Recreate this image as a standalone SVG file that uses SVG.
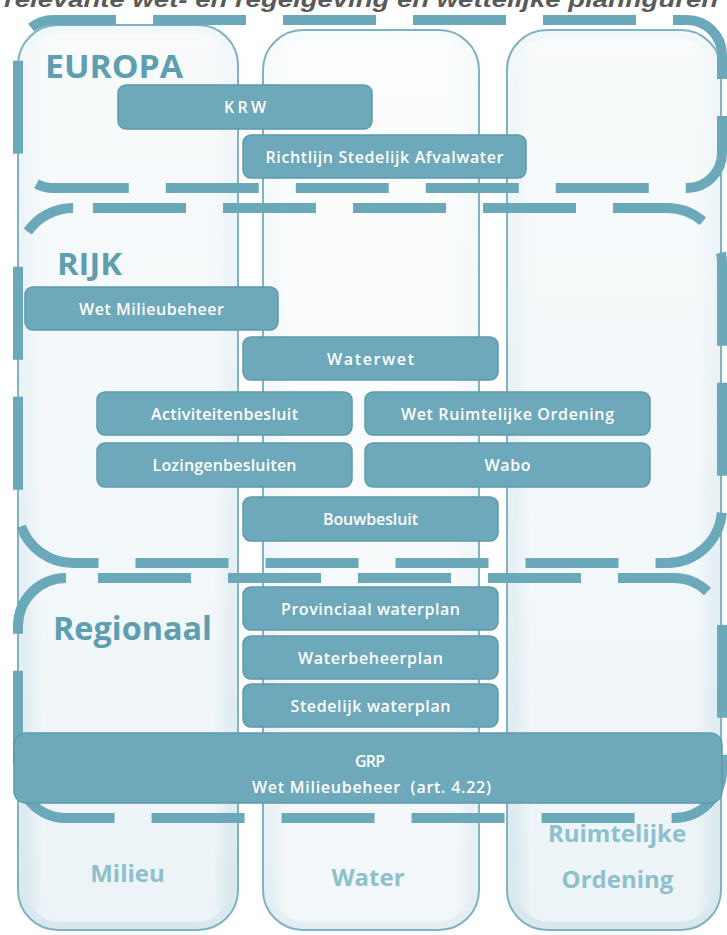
<svg xmlns="http://www.w3.org/2000/svg" width="727" height="935" viewBox="0 0 727 935">
<defs>
<linearGradient id="colA" x1="0" y1="0" x2="0" y2="1">
<stop offset="0" stop-color="#f2f7f9"/>
<stop offset="0.6" stop-color="#e6f0f4"/>
<stop offset="1" stop-color="#d9e8ee"/>
</linearGradient>
<linearGradient id="colW" x1="0" y1="0" x2="0" y2="1">
<stop offset="0" stop-color="#f8fbfc"/>
<stop offset="0.6" stop-color="#f1f6f8"/>
<stop offset="1" stop-color="#e4eef2"/>
</linearGradient>
<linearGradient id="colSide" x1="0" y1="0" x2="1" y2="0">
<stop offset="0" stop-color="#ffffff" stop-opacity="0"/>
<stop offset="0.08" stop-color="#ffffff" stop-opacity="0.5"/>
<stop offset="0.92" stop-color="#ffffff" stop-opacity="0.5"/>
<stop offset="1" stop-color="#ffffff" stop-opacity="0"/>
</linearGradient>
</defs>
<style>
.col{stroke:#7fb3c3;stroke-width:2}
.dash{fill:none;stroke:#6ba8ba;stroke-width:10;stroke-dasharray:93 37}
.box{fill:#6ea9bb;stroke:#5e99ac;stroke-width:1.5}
.bt{fill:#ffffff;font-family:"Open Sans","Liberation Sans",sans-serif;font-weight:600;font-size:16px;text-anchor:middle}
.hd{fill:#5e9eb1;font-family:"Open Sans","Liberation Sans",sans-serif;font-weight:700}
.ft{fill:#8ebfcd;font-family:"Open Sans","Liberation Sans",sans-serif;font-weight:700;font-size:24px;text-anchor:middle}
.title{fill:#5a5a5a;font-family:"Liberation Sans",Arial,sans-serif;font-weight:700;font-style:italic;font-size:22px}
</style>
<rect width="727" height="935" fill="#ffffff"/>
<text class="title" x="4" y="7" textLength="714" lengthAdjust="spacingAndGlyphs">relevante wet- en regelgeving en wettelijke planfiguren</text>

<g id="col-milieu">
<rect class="col" x="18" y="25" width="220" height="905" rx="40" fill="url(#colA)"/>
<rect x="26" y="33" width="204" height="889" rx="34" fill="url(#colSide)"/>
<text class="ft" x="127.5" y="882">Milieu</text>
</g>
<g id="col-water">
<rect class="col" x="263" y="30" width="216" height="900" rx="40" fill="url(#colW)"/>
<rect x="271" y="38" width="200" height="884" rx="34" fill="url(#colSide)"/>
<text class="ft" x="368" y="886">Water</text>
</g>
<g id="col-ro">
<rect class="col" x="507" y="30" width="214" height="900" rx="40" fill="url(#colA)"/>
<rect x="515" y="38" width="198" height="884" rx="34" fill="url(#colSide)"/>
<text class="ft" x="617" y="842">Ruimtelijke</text>
<text class="ft" x="617.5" y="888">Ordening</text>
</g>

<g id="europa">
<rect class="dash" x="18" y="20" width="704" height="168" rx="35" stroke-dashoffset="30"/>
<text class="hd" x="45" y="78" font-size="32" textLength="138" lengthAdjust="spacingAndGlyphs">EUROPA</text>
</g>
<g id="rijk">
<rect class="dash" x="18" y="208" width="704" height="355" rx="55" stroke-dashoffset="110"/>
<text class="hd" x="57" y="275" font-size="30" textLength="65" lengthAdjust="spacingAndGlyphs">RIJK</text>
</g>
<g id="regionaal">
<rect class="dash" x="18" y="578" width="704" height="240" rx="48" stroke-dashoffset="98"/>
<text class="hd" x="53" y="640" font-size="33" font-weight="600" textLength="159" lengthAdjust="spacingAndGlyphs">Regionaal</text>
</g>

<g id="krw"><rect class="box" x="118" y="85" width="254" height="44" rx="8"/><text class="bt" x="245" y="113" textLength="42" lengthAdjust="spacing">KRW</text></g>
<g id="richtlijn"><rect class="box" x="243" y="135" width="283" height="43" rx="8"/><text class="bt" x="384.5" y="163" textLength="238" lengthAdjust="spacing">Richtlijn Stedelijk Afvalwater</text></g>
<g id="wet-milieubeheer"><rect class="box" x="25" y="287" width="253" height="43" rx="8"/><text class="bt" x="151.5" y="315" textLength="145" lengthAdjust="spacing">Wet Milieubeheer</text></g>
<g id="waterwet"><rect class="box" x="243" y="337" width="255" height="43" rx="8"/><text class="bt" x="370.5" y="365" textLength="87" lengthAdjust="spacing">Waterwet</text></g>
<g id="activiteitenbesluit"><rect class="box" x="97" y="392" width="255" height="43" rx="8"/><text class="bt" x="224.5" y="420" textLength="147" lengthAdjust="spacing">Activiteitenbesluit</text></g>
<g id="wro"><rect class="box" x="365" y="392" width="285" height="43" rx="8"/><text class="bt" x="507.5" y="420" textLength="213" lengthAdjust="spacing">Wet Ruimtelijke Ordening</text></g>
<g id="lozingenbesluiten"><rect class="box" x="97" y="443" width="255" height="44" rx="8"/><text class="bt" x="224.5" y="471" textLength="144" lengthAdjust="spacing">Lozingenbesluiten</text></g>
<g id="wabo"><rect class="box" x="365" y="443" width="285" height="44" rx="8"/><text class="bt" x="507.5" y="471" textLength="46" lengthAdjust="spacing">Wabo</text></g>
<g id="bouwbesluit"><rect class="box" x="243" y="497" width="255" height="44" rx="8"/><text class="bt" x="370.5" y="525" textLength="95" lengthAdjust="spacing">Bouwbesluit</text></g>
<g id="provinciaal-waterplan"><rect class="box" x="243" y="587" width="255" height="43" rx="8"/><text class="bt" x="370.5" y="615" textLength="179" lengthAdjust="spacing">Provinciaal waterplan</text></g>
<g id="waterbeheerplan"><rect class="box" x="243" y="636" width="255" height="43" rx="8"/><text class="bt" x="370.5" y="664" textLength="145" lengthAdjust="spacing">Waterbeheerplan</text></g>
<g id="stedelijk-waterplan"><rect class="box" x="243" y="684" width="255" height="43" rx="8"/><text class="bt" x="370.5" y="712" textLength="160" lengthAdjust="spacing">Stedelijk waterplan</text></g>
<g id="grp"><rect class="box" x="14" y="733" width="708" height="70" rx="12" fill="#74adbf"/><text class="bt" x="370" y="767" textLength="30" lengthAdjust="spacing">GRP</text><text class="bt" x="371.5" y="793" textLength="239" lengthAdjust="spacing" xml:space="preserve">Wet Milieubeheer  (art. 4.22)</text></g>
<g id="connectors"/>
</svg>
